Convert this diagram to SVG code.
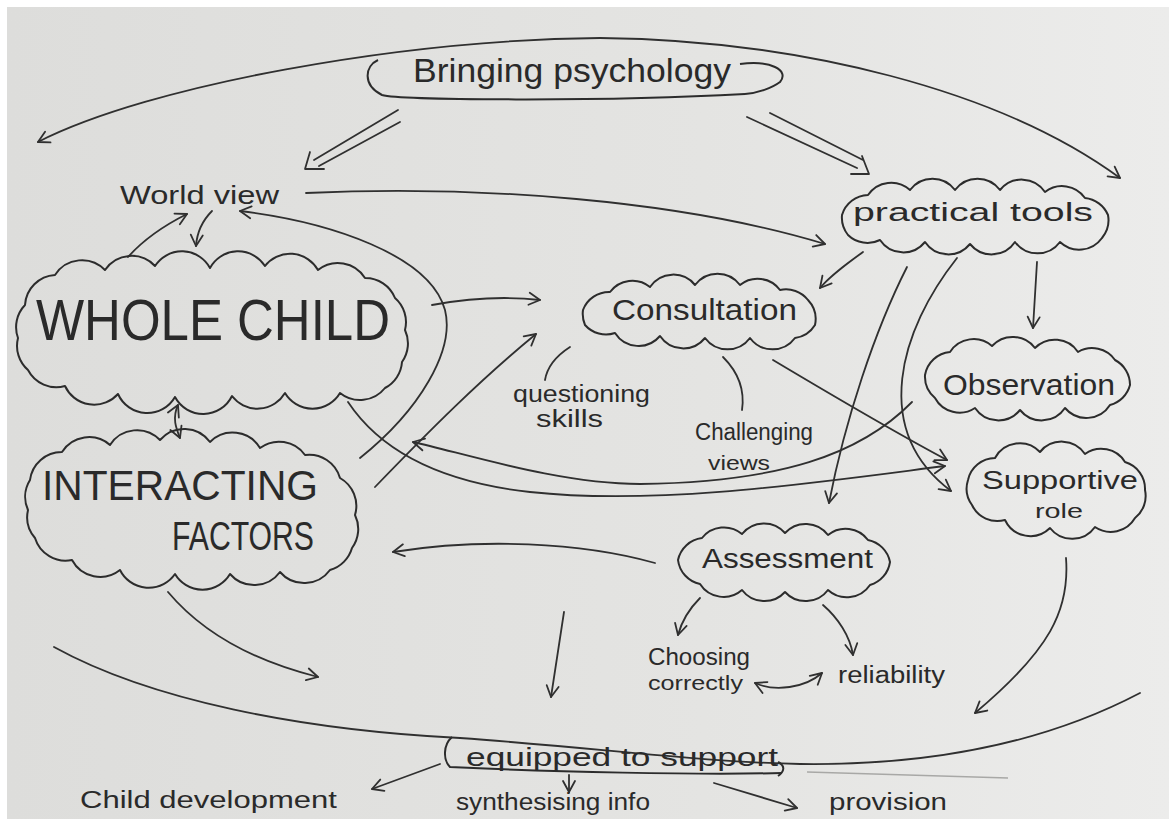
<svg xmlns="http://www.w3.org/2000/svg" width="1169" height="819" viewBox="0 0 1169 819">
<defs>
<linearGradient id="paper" x1="0" y1="0" x2="1" y2="0">
<stop offset="0" stop-color="#dddddb"/>
<stop offset="0.6" stop-color="#e4e4e2"/>
<stop offset="1" stop-color="#ececeb"/>
</linearGradient>
<marker id="arr" viewBox="-13 -8 15 16" refX="0" refY="0" markerWidth="15" markerHeight="16" markerUnits="userSpaceOnUse" orient="auto-start-reverse">
<path d="M-11,-6 L0,0 L-11,6" fill="none" stroke="#303030" stroke-width="1.8" stroke-linecap="round" stroke-linejoin="round"/>
</marker>
<style>
.ln{fill:none;stroke:#303030;stroke-width:1.8;stroke-linecap:round;stroke-linejoin:round}
.cl{fill:none;stroke:#2c2c2c;stroke-width:2;stroke-linejoin:round}
.t{font-family:"Liberation Sans",Arial,sans-serif;fill:#2a2a2a}
.faint{fill:none;stroke:#a8a8a6;stroke-width:1.6}
</style>
</defs>
<rect x="0" y="0" width="1169" height="819" fill="#ffffff"/>
<rect x="7" y="7" width="1162" height="812" fill="url(#paper)"/>

<g id="connectors">
<path class="ln" d="M38,142 C150,85 400,40 600,38 C800,40 1000,90 1120,178" marker-start="url(#arr)" marker-end="url(#arr)"/>
<path class="ln" d="M398,110 L314,160 M400,122 L319,166 M310,152 L305,169 L324,169"/>
<path class="ln" d="M747,117 L857,168 M770,113 L863,160 M851,174 L869,174 L862,156"/>
<path class="ln" d="M306,193 C480,185 680,200 825,244" marker-end="url(#arr)"/>
<path class="ln" d="M128,257 C145,238 165,225 187,214" marker-end="url(#arr)"/>
<path class="ln" d="M212,211 C203,220 197,232 196,246" marker-end="url(#arr)"/>
<path class="ln" d="M360,458 C420,410 455,350 445,310 C430,255 330,222 240,211" marker-end="url(#arr)"/>
<path class="ln" d="M432,305 C470,298 505,296 540,300" marker-end="url(#arr)"/>
<path class="ln" d="M375,487 C430,430 480,380 536,334" marker-end="url(#arr)"/>
<path class="ln" d="M863,252 C845,265 830,276 820,288" marker-end="url(#arr)"/>
<path class="ln" d="M907,267 C875,330 845,420 829,503" marker-end="url(#arr)"/>
<path class="ln" d="M957,258 C900,330 870,430 951,491" marker-end="url(#arr)"/>
<path class="ln" d="M1037,262 L1033,328" marker-end="url(#arr)"/>
<path class="ln" d="M773,360 C840,400 900,435 947,460" marker-end="url(#arr)"/>
<path class="ln" d="M912,402 C860,455 780,482 640,484 C560,484 470,455 413,442" marker-end="url(#arr)"/>
<path class="ln" d="M348,402 C380,450 440,482 530,492 C660,506 820,482 945,466" marker-end="url(#arr)"/>
<path class="ln" d="M655,563 C580,542 480,538 393,552" marker-end="url(#arr)"/>
<path class="ln" d="M168,592 C200,630 250,660 318,677" marker-end="url(#arr)"/>
<path class="ln" d="M564,612 L551,697" marker-end="url(#arr)"/>
<path class="ln" d="M700,598 C690,608 682,620 678,635" marker-end="url(#arr)"/>
<path class="ln" d="M823,605 C838,618 850,636 853,655" marker-end="url(#arr)"/>
<path class="ln" d="M755,683 C775,692 805,688 822,673" marker-start="url(#arr)" marker-end="url(#arr)"/>
<path class="ln" d="M178,405 C172,418 176,428 180,438" marker-start="url(#arr)" marker-end="url(#arr)"/>
<path class="ln" d="M1066,558 C1070,610 1050,650 975,713" marker-end="url(#arr)"/>
<path class="ln" d="M54,647 C150,700 300,730 460,738 C600,748 700,762 800,764 C950,766 1060,735 1140,693"/>
<path class="ln" d="M440,764 L372,789" marker-end="url(#arr)"/>
<path class="ln" d="M569,775 L569,792" marker-end="url(#arr)"/>
<path class="ln" d="M714,783 L797,808" marker-end="url(#arr)"/>
<path class="faint" d="M807,772 L1008,778"/>
<path class="ln" d="M570,347 C556,356 547,368 545,380"/>
<path class="ln" d="M723,357 C738,372 745,390 742,410"/>
</g>

<g id="bringing-psychology">
<path class="cl" d="M378,60 C365,66 362,85 382,95 C400,100 600,102 745,94"/>
<path class="cl" d="M740,64 C770,60 790,70 780,82 C772,88 758,93 745,94"/>
<text class="t" x="413" y="82" font-size="33" textLength="318" lengthAdjust="spacingAndGlyphs">Bringing psychology</text>
</g>

<g id="world-view">
<text class="t" x="120" y="204" font-size="26" textLength="159" lengthAdjust="spacingAndGlyphs">World view</text>
</g>

<g id="practical-tools">
<path class="cl" d="M842,215 A28 28 0 0 1 868,195 A28 28 0 0 1 910,190 A28 28 0 0 1 955,190 A28 28 0 0 1 1000,190 A28 28 0 0 1 1045,192 A28 28 0 0 1 1085,198 A28 28 0 0 1 1108,215 A28 28 0 0 1 1102,238 A28 28 0 0 1 1060,242 A28 28 0 0 1 1015,242 A28 28 0 0 1 970,244 A28 28 0 0 1 925,242 A28 28 0 0 1 880,240 A28 28 0 0 1 848,235 A28 28 0 0 1 842,215 Z"/>
<text class="t" x="853" y="221" font-size="26" textLength="240" lengthAdjust="spacingAndGlyphs">practical tools</text>
</g>

<g id="whole-child">
<path class="cl" d="M25,305 A32 32 0 0 1 55,275 A32 32 0 0 1 105,270 A32 32 0 0 1 155,266 A32 32 0 0 1 210,268 A32 32 0 0 1 265,266 A32 32 0 0 1 318,270 A32 32 0 0 1 365,278 A32 32 0 0 1 395,298 A32 32 0 0 1 405,330 A32 32 0 0 1 402,362 A32 32 0 0 1 385,388 A32 32 0 0 1 340,393 A32 32 0 0 1 285,393 A32 32 0 0 1 232,396 A32 32 0 0 1 175,397 A32 32 0 0 1 118,394 A32 32 0 0 1 65,386 A32 32 0 0 1 28,370 A32 32 0 0 1 18,338 A32 32 0 0 1 25,305 Z"/>
<text class="t" x="36" y="340" font-size="58" textLength="354" lengthAdjust="spacingAndGlyphs">WHOLE CHILD</text>
</g>

<g id="interacting-factors">
<path class="cl" d="M30,480 A32 32 0 0 1 62,452 A32 32 0 0 1 110,445 A32 32 0 0 1 160,440 A32 32 0 0 1 210,442 A32 32 0 0 1 260,448 A32 32 0 0 1 305,455 A32 32 0 0 1 340,478 A32 32 0 0 1 355,515 A32 32 0 0 1 352,548 A32 32 0 0 1 330,570 A32 32 0 0 1 280,572 A32 32 0 0 1 230,574 A32 32 0 0 1 175,574 A32 32 0 0 1 120,570 A32 32 0 0 1 72,560 A32 32 0 0 1 35,538 A32 32 0 0 1 28,510 A32 32 0 0 1 30,480 Z"/>
<text class="t" x="42" y="500" font-size="43" textLength="276" lengthAdjust="spacingAndGlyphs">INTERACTING</text>
<text class="t" x="172" y="550" font-size="41" textLength="142" lengthAdjust="spacingAndGlyphs">FACTORS</text>
</g>

<g id="consultation">
<path class="cl" d="M583,310 A28 28 0 0 1 610,292 A28 28 0 0 1 650,287 A28 28 0 0 1 695,285 A28 28 0 0 1 740,285 A28 28 0 0 1 780,290 A28 28 0 0 1 808,300 A28 28 0 0 1 815,325 A28 28 0 0 1 795,338 A28 28 0 0 1 750,338 A28 28 0 0 1 705,338 A28 28 0 0 1 660,336 A28 28 0 0 1 615,333 A28 28 0 0 1 585,325 A28 28 0 0 1 583,310 Z"/>
<text class="t" x="612" y="320" font-size="29" textLength="185" lengthAdjust="spacingAndGlyphs">Consultation</text>
</g>

<g id="questioning-skills">
<text class="t" x="513" y="402" font-size="23" textLength="137" lengthAdjust="spacingAndGlyphs">questioning</text>
<text class="t" x="536" y="427" font-size="23" textLength="67" lengthAdjust="spacingAndGlyphs">skills</text>
</g>

<g id="challenging-views">
<text class="t" x="695" y="440" font-size="23" textLength="118" lengthAdjust="spacingAndGlyphs">Challenging</text>
<text class="t" x="708" y="470" font-size="21" textLength="62" lengthAdjust="spacingAndGlyphs">views</text>
</g>

<g id="observation">
<path class="cl" d="M925,375 A28 28 0 0 1 950,352 A28 28 0 0 1 992,346 A28 28 0 0 1 1035,348 A28 28 0 0 1 1078,352 A28 28 0 0 1 1115,360 A28 28 0 0 1 1130,385 A28 28 0 0 1 1110,405 A28 28 0 0 1 1065,408 A28 28 0 0 1 1020,410 A28 28 0 0 1 975,408 A28 28 0 0 1 935,398 A28 28 0 0 1 925,375 Z"/>
<text class="t" x="943" y="395" font-size="29" textLength="172" lengthAdjust="spacingAndGlyphs">Observation</text>
</g>

<g id="supportive-role">
<path class="cl" d="M968,480 A28 28 0 0 1 995,458 A28 28 0 0 1 1040,452 A28 28 0 0 1 1085,454 A28 28 0 0 1 1125,462 A28 28 0 0 1 1145,490 A28 28 0 0 1 1135,518 A28 28 0 0 1 1095,527 A28 28 0 0 1 1050,528 A28 28 0 0 1 1005,520 A28 28 0 0 1 972,505 A28 28 0 0 1 968,480 Z"/>
<text class="t" x="982" y="489" font-size="26" textLength="156" lengthAdjust="spacingAndGlyphs">Supportive</text>
<text class="t" x="1035" y="518" font-size="21" textLength="48" lengthAdjust="spacingAndGlyphs">role</text>
</g>

<g id="assessment">
<path class="cl" d="M678,560 A28 28 0 0 1 702,538 A28 28 0 0 1 742,534 A28 28 0 0 1 785,533 A28 28 0 0 1 828,535 A28 28 0 0 1 868,540 A28 28 0 0 1 890,562 A28 28 0 0 1 870,585 A28 28 0 0 1 828,590 A28 28 0 0 1 785,592 A28 28 0 0 1 742,590 A28 28 0 0 1 700,584 A28 28 0 0 1 678,560 Z"/>
<text class="t" x="702" y="568" font-size="27" textLength="171" lengthAdjust="spacingAndGlyphs">Assessment</text>
</g>

<g id="choosing-correctly">
<text class="t" x="648" y="665" font-size="23" textLength="102" lengthAdjust="spacingAndGlyphs">Choosing</text>
<text class="t" x="648" y="690" font-size="21" textLength="95" lengthAdjust="spacingAndGlyphs">correctly</text>
</g>

<g id="reliability">
<text class="t" x="838" y="683" font-size="23" textLength="107" lengthAdjust="spacingAndGlyphs">reliability</text>
</g>

<g id="equipped-to-support">
<path class="cl" d="M452,737 C443,745 443,760 450,767 C550,772 700,775 782,773"/>
<path class="cl" d="M778,762 C786,766 784,772 778,776"/>
<text class="t" x="466" y="766" font-size="25" textLength="312" lengthAdjust="spacingAndGlyphs">equipped to support</text>
</g>

<g id="child-development">
<text class="t" x="80" y="808" font-size="23" textLength="257" lengthAdjust="spacingAndGlyphs">Child development</text>
</g>

<g id="synthesising-info">
<text class="t" x="456" y="810" font-size="23" textLength="194" lengthAdjust="spacingAndGlyphs">synthesising info</text>
</g>

<g id="provision">
<text class="t" x="829" y="810" font-size="23" textLength="118" lengthAdjust="spacingAndGlyphs">provision</text>
</g>
</svg>
